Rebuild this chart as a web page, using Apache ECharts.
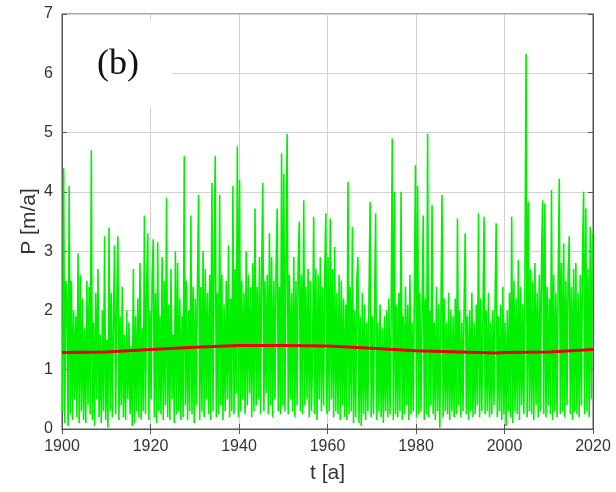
<!DOCTYPE html>
<html>
<head>
<meta charset="utf-8">
<script src="https://cdn.jsdelivr.net/npm/echarts@6/dist/echarts.min.js"></script>
<style>
  html, body { margin: 0; padding: 0; background: #fff; }
  #chart { width: 616px; height: 492px; }
</style>
</head>
<body>
<div id="chart"></div>
<script>
// Quarterly precipitation P [m/a], one array per decade (4 values per year)
const p1900s = [
  0.3, 4.4, 0.1, 2.5,  2.2, 0.05, 4.1, 0.25,  2.5, 0.15, 2.0, 0.5,  1.9, 0.2, 2.96, 0.1,  2.6, 0.3, 2.2, 0.15,
  1.7, 0.1, 2.5, 0.4,  2.4, 0.25, 4.7, 0.15,  1.8, 0.05, 2.3, 0.5,  2.7, 0.2, 1.6, 0.1,  2.0, 0.3, 3.25, 0.15
];
const p1910s = [
  1.5, 0.02, 3.4, 0.3,  2.3, 0.2, 1.8, 3.1,  0.25, 2.1, 3.25, 0.15,  1.9, 0.4, 2.4, 0.2,  1.6, 0.15, 2.0, 0.5,
  1.8, 0.25, 1.4, 0.05,  2.7, 0.1, 1.9, 0.3,  2.2, 0.2, 2.8, 0.15,  1.7, 0.3, 3.6, 0.25,  2.4, 3.3, 0.15, 2.0
];
const p1920s = [
  0.5, 2.6, 3.2, 0.2,  2.3, 0.1, 3.15, 0.3,  1.9, 0.25, 2.9, 0.15,  2.5, 0.4, 3.9, 0.2,  2.1, 0.15, 2.7, 0.5,
  1.6, 0.1, 3.0, 0.25,  2.8, 0.3, 2.2, 0.15,  1.9, 0.2, 4.6, 0.4,  2.5, 0.15, 2.0, 0.3,  3.6, 0.25, 2.4, 0.1
];
const p1930s = [
  2.2, 0.4, 2.6, 3.95,  0.15, 2.4, 0.3, 3.0,  0.2, 2.7, 0.5, 2.3,  0.25, 2.6, 0.15, 4.15,  0.3, 2.8, 4.6, 0.2,
  2.3, 0.25, 3.95, 0.4,  2.6, 0.15, 2.1, 0.3,  2.5, 0.5, 3.1, 0.2,  2.2, 0.3, 4.1, 0.25,  2.7, 0.6, 4.77, 0.2
];
const p1940s = [
  4.2, 0.3, 2.5, 0.5,  2.3, 0.25, 3.0, 0.4,  2.6, 0.6, 2.4, 0.2,  2.8, 0.3, 3.72, 0.4,  2.4, 0.5, 2.9, 0.25,
  2.7, 4.15, 0.3, 2.5,  0.6, 2.6, 0.25, 3.3,  0.4, 2.9, 0.2, 2.5,  0.5, 2.7, 3.72, 0.3,  2.4, 0.25, 4.65, 0.4
];
const p1950s = [
  4.3, 0.3, 2.8, 4.98,  0.25, 2.6, 0.5, 2.3,  0.3, 2.9, 0.2, 2.5,  0.4, 2.8, 3.5, 0.3,  2.6, 0.25, 3.86, 0.4,
  2.4, 0.5, 2.7, 0.2,  2.5, 0.3, 1.2, 3.58,  0.25, 2.7, 0.15, 2.6,  0.5, 2.9, 0.3, 2.4,  0.4, 2.6, 3.64, 0.25
];
const p1960s = [
  2.9, 0.3, 3.55, 0.5,  2.7, 0.2, 3.07, 0.3,  2.3, 0.25, 2.6, 0.15,  2.5, 0.4, 2.2, 0.2,  2.1, 0.15, 4.17, 0.25,
  2.4, 0.3, 3.41, 0.1,  2.0, 0.2, 2.5, 2.9,  0.1, 1.9, 0.05, 2.3,  0.25, 2.1, 0.15, 1.8,  0.3, 2.2, 3.83, 0.2
];
const p1970s = [
  1.9, 0.25, 2.0, 3.64,  0.15, 1.8, 0.3, 2.1,  0.2, 1.7, 0.1, 1.9,  0.3, 2.0, 0.2, 2.2,  0.25, 1.8, 4.9, 0.15,
  4.0, 0.25, 2.1, 0.2,  2.3, 0.3, 4.0, 0.15,  1.9, 0.25, 2.4, 0.4,  2.1, 0.15, 2.6, 0.25,  1.8, 0.3, 2.2, 4.45
];
const p1980s = [
  0.2, 4.1, 0.25, 2.3,  0.3, 2.0, 3.6, 0.15,  2.2, 0.25, 4.98, 0.2,  2.0, 0.4, 3.78, 0.25,  1.8, 0.15, 2.4, 0.3,
  2.1, 0.02, 1.9, 3.95,  0.2, 2.2, 0.3, 1.8,  0.25, 2.3, 0.15, 2.0,  0.3, 1.9, 0.2, 2.2,  0.25, 3.55, 0.4, 2.0
];
const p1990s = [
  0.2, 1.8, 0.3, 2.1,  3.3, 0.25, 1.9, 0.15,  2.0, 0.3, 2.3, 0.2,  1.8, 0.25, 2.1, 0.4,  3.64, 0.2, 2.2, 0.3,
  1.9, 3.58, 0.25, 2.0,  0.3, 2.3, 0.2, 1.8,  0.25, 2.0, 0.4, 2.2,  3.47, 0.2, 1.9, 0.3,  2.1, 0.15, 2.4, 0.25
];
const p2000s = [
  1.8, 0.05, 2.0, 0.3,  2.3, 0.2, 3.58, 0.1,  2.5, 0.3, 2.2, 0.25,  2.85, 0.15, 2.4, 0.4,  2.1, 0.25, 2.6, 6.33,
  0.2, 3.83, 0.3, 2.7,  0.25, 2.5, 0.15, 2.8,  0.4, 2.3, 0.2, 2.6,  0.3, 2.9, 3.86, 0.25,  3.8, 0.2, 2.4, 0.4
];
const p2010s = [
  2.2, 0.25, 4.03, 0.15,  2.6, 0.3, 2.3, 0.2,  2.5, 4.22, 0.25, 2.8,  0.3, 3.13, 0.2, 2.5,  0.4, 2.6, 3.25, 0.25,
  2.4, 0.15, 2.7, 0.3,  2.8, 0.25, 2.3, 0.2,  2.6, 0.4, 2.9, 4.0,  0.25, 3.72, 0.3, 2.7,  0.2, 3.41, 0.5, 3.3
];

// Long-term trend of P
const trendYears  = [1900, 1910, 1920, 1930, 1940, 1950, 1960, 1970, 1980, 1990, 1998, 2000, 2010, 2020];
const trendValues = [1.29, 1.30, 1.34, 1.38, 1.41, 1.41, 1.40, 1.36, 1.32, 1.30, 1.28, 1.29, 1.30, 1.34];

// Axis ticks
const xTicks = [1900, 1920, 1940, 1960, 1980, 2000, 2020];
const yTicks = [0, 1, 2, 3, 4, 5, 6, 7];

const decades = [p1900s, p1910s, p1920s, p1930s, p1940s, p1950s,
                 p1960s, p1970s, p1980s, p1990s, p2000s, p2010s];
const precip = [];
decades.forEach((arr, d) => {
  arr.forEach((v, i) => {
    precip.push([1900 + d * 10 + i / 4 + 0.125, v]);
  });
});
const trend = trendYears.map((y, i) => [y, trendValues[i]]);

const chart = echarts.init(document.getElementById('chart'), null, { renderer: 'canvas' });

const labelFont = { fontFamily: 'Liberation Sans, Arial, sans-serif', fontSize: 16, color: '#333' };
const tickStyle = { show: true, inside: true, length: 5, lineStyle: { color: '#555', width: 1 } };
const boxLine = { show: true, lineStyle: { color: '#555', width: 1 } };

chart.setOption({
  animation: false,
  backgroundColor: '#fff',
  grid: { left: 62, right: 23, top: 14, bottom: 63, show: true, borderColor: '#555', borderWidth: 1 },
  xAxis: [
    {
      type: 'value', min: xTicks[0], max: xTicks[xTicks.length - 1], interval: 20,
      position: 'bottom',
      name: 't [a]', nameLocation: 'middle', nameGap: 34, nameMoveOverlap: false,
      nameTextStyle: { fontFamily: 'Liberation Sans, Arial, sans-serif', fontSize: 21, color: '#333' },
      axisLine: boxLine, axisTick: tickStyle,
      axisLabel: Object.assign({ margin: 10, formatter: v => String(v) }, labelFont),
      splitLine: { show: true, lineStyle: { color: '#d2d2d2', width: 1 } }
    },
    {
      type: 'value', min: xTicks[0], max: xTicks[xTicks.length - 1], interval: 20,
      position: 'top',
      axisLine: boxLine, axisTick: tickStyle, axisLabel: { show: false }, splitLine: { show: false }
    }
  ],
  yAxis: [
    {
      type: 'value', min: yTicks[0], max: yTicks[yTicks.length - 1], interval: 1,
      position: 'left',
      name: 'P [m/a]', nameLocation: 'middle', nameGap: 22, nameRotate: 90, nameMoveOverlap: false,
      nameTextStyle: { fontFamily: 'Liberation Sans, Arial, sans-serif', fontSize: 21, color: '#333' },
      axisLine: boxLine, axisTick: tickStyle,
      axisLabel: Object.assign({ margin: 9 }, labelFont),
      splitLine: { show: true, lineStyle: { color: '#d2d2d2', width: 1 } }
    },
    {
      type: 'value', min: yTicks[0], max: yTicks[yTicks.length - 1], interval: 1,
      position: 'right',
      axisLine: boxLine, axisTick: tickStyle, axisLabel: { show: false }, splitLine: { show: false }
    }
  ],
  series: [
    {
      name: 'P',
      type: 'line',
      data: precip,
      showSymbol: false,
      symbol: 'none',
      sampling: null,
      lineStyle: { color: '#00f000', width: 1.6 },
      z: 2
    },
    {
      name: 'trend',
      type: 'line',
      data: trend,
      showSymbol: false,
      symbol: 'none',
      lineStyle: { color: '#ee0000', width: 3 },
      z: 3
    }
  ],
  graphic: [
    {
      type: 'rect', z: 100,
      shape: { x: 63, y: 20, width: 109, height: 87 },
      style: { fill: '#fff' }
    },
    {
      type: 'text', z: 101, left: 97, top: 47,
      style: { text: '(b)', font: '36px "Liberation Serif", "DejaVu Serif", serif', fill: '#111' }
    }
  ]
});
</script>
</body>
</html>
